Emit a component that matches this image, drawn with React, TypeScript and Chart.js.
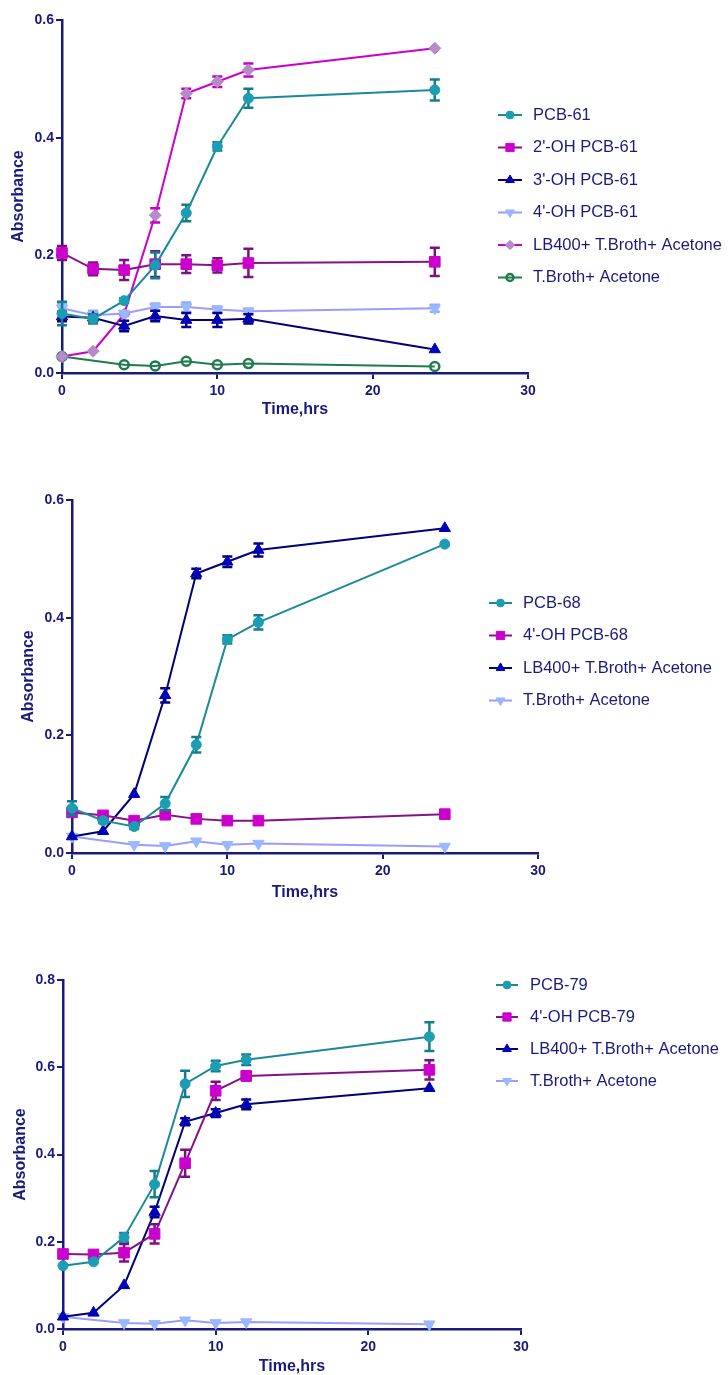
import { useEffect, useRef } from "react";
import { Chart, registerables } from "chart.js";
import { drawPoint } from "chart.js/helpers";

Chart.register(...registerables);
Chart.defaults.font.family = "'Liberation Sans', Arial, sans-serif";

// Sampling times (hours)
const hours = [0, 2, 4, 6, 8, 10, 12, 24];

// PCB-61 experiment
const pcb61 = [0.101, 0.092, 0.123, 0.183, 0.272, 0.385, 0.467, 0.481];
const pcb61Sd = [0.02, 0.008, 0.004, 0.022, 0.014, 0.007, 0.016, 0.018];
const oh2Pcb61 = [0.204, 0.177, 0.175, 0.185, 0.185, 0.183, 0.187, 0.189];
const oh2Pcb61Sd = [0.012, 0.011, 0.017, 0.022, 0.015, 0.012, 0.024, 0.024];
const oh3Pcb61 = [0.096, 0.094, 0.08, 0.097, 0.09, 0.09, 0.092, 0.04];
const oh3Pcb61Sd = [0.008, 0.006, 0.009, 0.009, 0.012, 0.012, 0.008, 0];
const oh4Pcb61 = [0.11, 0.098, 0.101, 0.112, 0.112, 0.108, 0.105, 0.11];
const oh4Pcb61Sd = [0.008, 0.008, 0.004, 0.006, 0.008, 0.005, 0.004, 0.006];

// PCB-68 experiment
const pcb68 = [0.076, 0.055, 0.045, 0.084, 0.184, 0.363, 0.392, 0.525];
const pcb68Sd = [0.012, 0.004, 0.004, 0.011, 0.013, 0.007, 0.012, 0];
const oh4Pcb68 = [0.069, 0.064, 0.055, 0.065, 0.058, 0.055, 0.055, 0.066];
const oh4Pcb68Sd = [0, 0, 0, 0, 0, 0, 0, 0.007];

// PCB-79 experiment
const pcb79 = [0.145, 0.154, 0.21, 0.332, 0.562, 0.603, 0.617, 0.67];
const pcb79Sd = [0, 0, 0.01, 0.03, 0.03, 0.012, 0.012, 0.033];
const oh4Pcb79 = [0.172, 0.171, 0.175, 0.218, 0.38, 0.546, 0.58, 0.594];
const oh4Pcb79Sd = [0, 0, 0.02, 0.022, 0.031, 0.021, 0.01, 0.022];

// Controls shared by all three experiments
const lb400 = [0.028, 0.037, 0.1, 0.268, 0.475, 0.495, 0.515, 0.552];
const lb400Sd = [0, 0, 0, 0.012, 0.008, 0.009, 0.011, 0];
const tBroth = [0.028, null, 0.014, 0.012, 0.02, 0.014, 0.016, 0.011];

const xTicks = [0, 10, 20, 30];

const INK = "#1a1a7c";

type Style = {
  point: string;
  border: string;
  line: string;
  err: string;
  shape: string;
  radius: number;
  rotation?: number;
  borderWidth?: number;
};

const TEAL: Style = { point: "#1b9db3", border: "#1b9db3", line: "#1a8a9b", err: "#147d8c", shape: "circle", radius: 5 };
const MAGENTA_SQ: Style = { point: "#cc00cc", border: "#cc00cc", line: "#84128a", err: "#7d0f80", shape: "rect", radius: 7.5 };
const NAVY_TRI: Style = { point: "#0000b8", border: "#0000b8", line: "#00007a", err: "#000088", shape: "triangle", radius: 6.5 };
const LIGHT_TRI: Style = { point: "#99b8ff", border: "#99b8ff", line: "#9a9cff", err: "#8ea8ff", shape: "triangle", radius: 6.5, rotation: 180 };
const LB_DIAMOND: Style = { point: "#b68bc9", border: "#b68bc9", line: "#cc00cc", err: "#c400c4", shape: "rectRot", radius: 6 };
const GREEN_RING: Style = { point: "rgba(255,255,255,0)", border: "#1e7d4d", line: "#1e7d4d", err: "#1e7d4d", shape: "circle", radius: 4.5, borderWidth: 2.5 };

function series(label: string, values: (number | null)[], sd: number[] | null, st: Style) {
  return {
    label,
    data: values.map((v, i) => ({ x: hours[i], y: v })),
    sd,
    errColor: st.err,
    borderColor: st.line,
    borderWidth: 2,
    backgroundColor: st.point,
    pointStyle: st.shape,
    pointRadius: st.radius,
    pointRotation: st.rotation ?? 0,
    pointBackgroundColor: st.point,
    pointBorderColor: st.border,
    pointBorderWidth: st.borderWidth ?? 1,
    tension: 0,
    spanGaps: true,
    clip: false,
    fill: false,
  };
}

// Mean ± SD bars, drawn just beneath each series
const errorBars = {
  id: "errorBars",
  beforeDatasetDraw(chart: any, args: any) {
    const ds = chart.data.datasets[args.index];
    if (!ds.sd) return;
    const ctx = chart.ctx;
    const y = chart.scales.y;
    ctx.save();
    ctx.strokeStyle = ds.errColor;
    ctx.lineWidth = 2.5;
    args.meta.data.forEach((pt: any, i: number) => {
      const v = ds.data[i].y;
      const e = ds.sd[i];
      if (v == null || !e) return;
      const yt = y.getPixelForValue(v + e);
      const yb = y.getPixelForValue(v - e);
      const x = pt.x;
      ctx.beginPath();
      ctx.moveTo(x, yt);
      ctx.lineTo(x, yb);
      ctx.moveTo(x - 5, yt);
      ctx.lineTo(x + 5, yt);
      ctx.moveTo(x - 5, yb);
      ctx.lineTo(x + 5, yb);
      ctx.stroke();
    });
    ctx.restore();
  },
};

// Legend placed beside the plot area
const sideLegend = {
  id: "sideLegend",
  afterDraw(chart: any, _args: any, opts: any) {
    const ctx = chart.ctx;
    const { lineX0, lineX1, textX, y0, dy } = opts;
    chart.data.datasets.forEach((ds: any, i: number) => {
      const y = y0 + i * dy;
      ctx.save();
      ctx.strokeStyle = ds.borderColor;
      ctx.lineWidth = 2;
      ctx.beginPath();
      ctx.moveTo(lineX0, y);
      ctx.lineTo(lineX1, y);
      ctx.stroke();
      ctx.fillStyle = ds.pointBackgroundColor;
      ctx.strokeStyle = ds.pointBorderColor;
      ctx.lineWidth = ds.pointBorderWidth;
      drawPoint(
        ctx,
        { pointStyle: ds.pointStyle, radius: ds.pointRadius * 0.78, rotation: ds.pointRotation, borderWidth: ds.pointBorderWidth },
        (lineX0 + lineX1) / 2,
        y
      );
      ctx.fillStyle = INK;
      ctx.font = "16.5px 'Liberation Sans', Arial, sans-serif";
      ctx.textBaseline = "middle";
      ctx.textAlign = "left";
      ctx.fillText(ds.label, textX, y);
      ctx.restore();
    });
  },
};

type PanelGeom = {
  height: number;
  left: number;
  right: number;
  top: number;
  bottom: number;
  yMax: number;
  yTitlePad: number;
  xTitlePad: number;
  legend: { lineX0: number; lineX1: number; textX: number; y0: number; dy: number };
};

function buildConfig(datasets: any[], g: PanelGeom): any {
  const tickFont = { size: 14, weight: "bold" as const };
  const titleFont = { size: 16, weight: "bold" as const, lineHeight: 1 };
  return {
    type: "line",
    data: { datasets },
    plugins: [errorBars, sideLegend],
    options: {
      animation: false,
      responsive: false,
      maintainAspectRatio: false,
      layout: { padding: { left: 0, top: g.top, right: 728 - g.right, bottom: 0 } },
      scales: {
        x: {
          type: "linear",
          min: 0,
          max: 30,
          afterBuildTicks: (s: any) => {
            s.ticks = xTicks.map((v) => ({ value: v }));
          },
          afterFit: (s: any) => {
            s.height = g.height - g.bottom;
          },
          ticks: { color: INK, font: tickFont, padding: 4, maxRotation: 0, callback: (v: any) => String(v) },
          grid: { display: true, drawOnChartArea: false, drawTicks: true, tickLength: 6, color: INK, lineWidth: 2 },
          border: { display: true, color: INK, width: 2.5 },
          title: { display: true, text: "Time,hrs", color: INK, font: titleFont, padding: { top: 0, bottom: g.xTitlePad } },
        },
        y: {
          type: "linear",
          min: 0,
          max: g.yMax,
          afterFit: (s: any) => {
            s.width = g.left;
          },
          ticks: { stepSize: 0.2, color: INK, font: tickFont, padding: 2, callback: (v: any) => Number(v).toFixed(1) },
          grid: { display: true, drawOnChartArea: false, drawTicks: true, tickLength: 6, color: INK, lineWidth: 2 },
          border: { display: true, color: INK, width: 2.5 },
          title: { display: true, text: "Absorbance", color: INK, font: titleFont, padding: { top: g.yTitlePad, bottom: 0 } },
        },
      },
      plugins: {
        legend: { display: false },
        tooltip: { enabled: false },
        sideLegend: g.legend,
      },
    },
  };
}

function Panel({ top, geom, make }: { top: number; geom: PanelGeom; make: () => any[] }) {
  const ref = useRef<HTMLCanvasElement>(null);
  useEffect(() => {
    const chart = new Chart(ref.current as HTMLCanvasElement, buildConfig(make(), geom));
    return () => chart.destroy();
  }, []);
  return (
    <canvas
      ref={ref}
      width={728}
      height={geom.height}
      style={{ position: "absolute", left: 0, top, width: 728, height: geom.height, display: "block" }}
    />
  );
}

const geom1: PanelGeom = {
  height: 430, left: 62, right: 528, top: 20, bottom: 373, yMax: 0.6, yTitlePad: 11, xTitlePad: 12,
  legend: { lineX0: 498, lineX1: 522, textX: 533, y0: 115, dy: 32.5 },
};
const geom2: PanelGeom = {
  height: 440, left: 72, right: 538, top: 30, bottom: 383, yMax: 0.6, yTitlePad: 21, xTitlePad: 9,
  legend: { lineX0: 489, lineX1: 512, textX: 523, y0: 133, dy: 32.5 },
};
const geom3: PanelGeom = {
  height: 425, left: 63, right: 521, top: 30, bottom: 379, yMax: 0.8, yTitlePad: 13, xTitlePad: 0,
  legend: { lineX0: 496, lineX1: 518, textX: 530, y0: 35, dy: 32 },
};

export default function App() {
  return (
    <div style={{ position: "absolute", left: 0, top: 0, width: 728, height: 1375, background: "#ffffff" }}>
      <Panel
        top={0}
        geom={geom1}
        make={() => [
          series("PCB-61", pcb61, pcb61Sd, TEAL),
          series("2'-OH PCB-61", oh2Pcb61, oh2Pcb61Sd, MAGENTA_SQ),
          series("3'-OH PCB-61", oh3Pcb61, oh3Pcb61Sd, NAVY_TRI),
          series("4'-OH PCB-61", oh4Pcb61, oh4Pcb61Sd, LIGHT_TRI),
          series("LB400+ T.Broth+ Acetone", lb400, lb400Sd, LB_DIAMOND),
          series("T.Broth+ Acetone", tBroth, null, GREEN_RING),
        ]}
      />
      <Panel
        top={470}
        geom={geom2}
        make={() => [
          series("PCB-68", pcb68, pcb68Sd, TEAL),
          series("4'-OH PCB-68", oh4Pcb68, oh4Pcb68Sd, MAGENTA_SQ),
          series("LB400+ T.Broth+ Acetone", lb400, lb400Sd, NAVY_TRI),
          series("T.Broth+ Acetone", tBroth, null, LIGHT_TRI),
        ]}
      />
      <Panel
        top={950}
        geom={geom3}
        make={() => [
          series("PCB-79", pcb79, pcb79Sd, TEAL),
          series("4'-OH PCB-79", oh4Pcb79, oh4Pcb79Sd, MAGENTA_SQ),
          series("LB400+ T.Broth+ Acetone", lb400, lb400Sd, NAVY_TRI),
          series("T.Broth+ Acetone", tBroth, null, LIGHT_TRI),
        ]}
      />
    </div>
  );
}
